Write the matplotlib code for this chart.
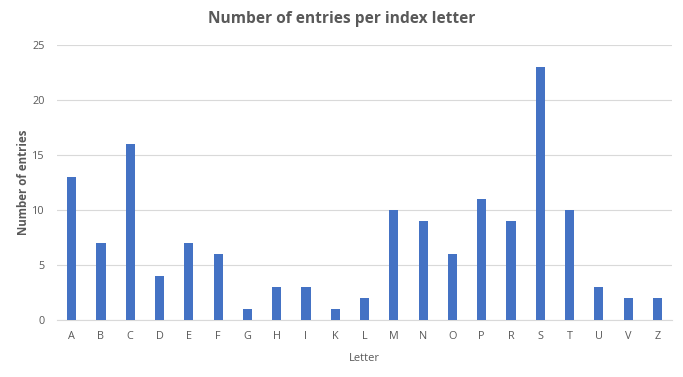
import matplotlib
matplotlib.use('Agg')
import matplotlib.pyplot as plt
import numpy as np

letters = ['A', 'B', 'C', 'D', 'E', 'F', 'G', 'H', 'I', 'K', 'L',
           'M', 'N', 'O', 'P', 'R', 'S', 'T', 'U', 'V', 'Z']
entries = [13, 7, 16, 4, 7, 6, 1, 3, 3, 1, 2,
           10, 9, 6, 11, 9, 23, 10, 3, 2, 2]
yticks = [0, 5, 10, 15, 20, 25]

textColor = '#595959'
plt.rcParams['font.family'] = ['Open Sans', 'DejaVu Sans']

fig = plt.figure(figsize=(6.83, 3.77), dpi=100)
ax = fig.add_axes([0.0835, 0.151, 0.9005, 0.730])

x = np.arange(len(letters))
ax.bar(x, entries, width=0.31, color='#4472C4', zorder=3)

ax.set_xlim(-0.5, len(letters) - 0.5)
ax.set_ylim(0, 25)
ax.set_yticks(yticks)
ax.set_xticks(x)
ax.set_xticklabels(letters)
ax.tick_params(axis='both', length=0, labelsize=7.8, labelcolor=textColor)
ax.tick_params(axis='x', pad=8)
ax.tick_params(axis='y', pad=9)
ax.yaxis.grid(True, color='#D9D9D9', linewidth=0.8, zorder=0)

for side in ['top', 'right', 'left']:
    ax.spines[side].set_visible(False)
ax.spines['bottom'].set_color('#D9D9D9')
ax.spines['bottom'].set_linewidth(0.8)

ax.set_xlabel('Letter', fontsize=8, color=textColor, labelpad=8)
ax.set_ylabel('Number of entries', fontsize=8.3, color=textColor,
              fontweight='bold')
ax.yaxis.set_label_coords(-0.044, 0.5)
fig.text(0.5, 0.949, 'Number of entries per index letter', ha='center',
         va='center', fontsize=11.2, fontweight='bold', color=textColor)

fig.savefig('out.png', dpi=100)
